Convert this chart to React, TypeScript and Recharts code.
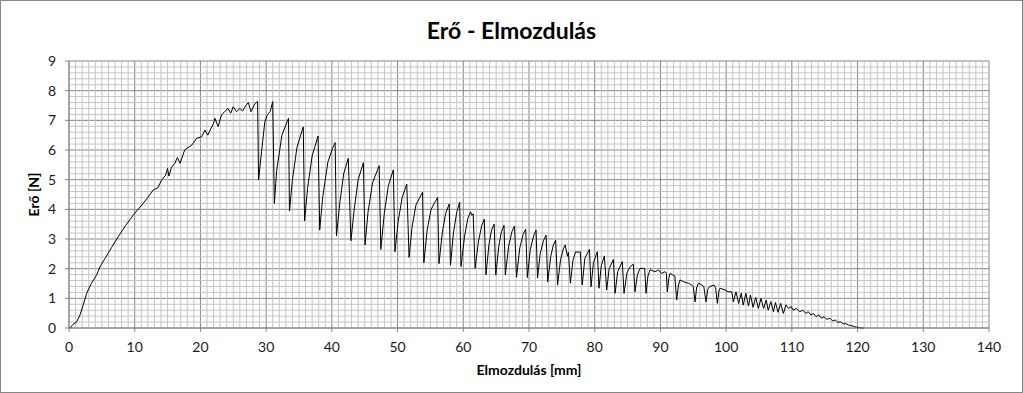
import React from 'react';
import { LineChart, Line, XAxis, YAxis, CartesianGrid, Label, ReferenceLine } from 'recharts';

// [elmozdulás mm, erő N]
const rise: [number, number][] = [
  [0, 0], [0.15, 0], [0.6, 0.12], [1.17, 0.21], [1.67, 0.44], [2.2, 0.8], [2.69, 1.17],
  [3.4, 1.5], [4.2, 1.79], [4.8, 2.1], [5.5, 2.35], [6.5, 2.72], [7.5, 3.08], [8.6, 3.45],
  [9.8, 3.81], [10.5, 4.0], [11.1, 4.15], [12.0, 4.4], [12.8, 4.65], [13.5, 4.72], [14.1, 4.99],
  [14.7, 5.15], [15.0, 5.38], [15.2, 5.12], [15.6, 5.42], [16.1, 5.55], [16.5, 5.75], [16.9, 5.55],
  [17.6, 6.0], [18.7, 6.17], [19.4, 6.39], [20.2, 6.45], [20.7, 6.67], [21.1, 6.5], [22.0, 6.9],
  [22.2, 7.07], [22.7, 6.79], [23.2, 7.18], [23.7, 7.3], [24.2, 7.4], [24.6, 7.24], [25.0, 7.46],
  [25.5, 7.29], [26.0, 7.4], [26.4, 7.31], [26.9, 7.5], [27.3, 7.6], [27.7, 7.29], [28.3, 7.57],
  [28.7, 7.63],
];

const bigTeeth: [number, number][] = [
  [28.85, 4.99], [29.3, 5.94], [29.8, 6.95], [30.2, 7.2], [30.6, 7.29], [31.0, 7.63], [31.25, 4.2],
  [31.6, 5.3], [32.4, 6.5], [33.4, 7.07], [33.55, 3.94],
  [34.0, 5.0], [34.7, 6.1], [35.65, 6.78], [35.85, 3.61],
  [36.3, 4.7], [37.0, 5.8], [37.9, 6.47], [38.15, 3.3],
  [38.6, 4.4], [39.4, 5.6], [40.1, 6.05], [40.5, 6.25], [40.7, 3.1],
  [41.2, 4.2], [41.8, 5.2], [42.5, 5.72], [42.9, 2.94],
  [43.4, 4.0], [44.0, 5.0], [44.8, 5.57], [45.05, 2.8],
  [45.5, 3.9], [46.2, 4.9], [47.2, 5.47], [47.45, 2.65],
  [48.0, 3.9], [48.6, 4.8], [49.35, 5.33], [49.6, 2.57],
];

const midTeeth: [number, number][] = [
  [50.1, 3.6], [50.7, 4.4], [51.2, 4.72], [51.4, 4.85], [51.75, 2.38],
  [52.2, 3.4], [52.8, 4.15], [53.5, 4.45], [53.8, 4.58], [54.0, 2.2],
  [54.5, 3.3], [55.1, 4.0], [55.7, 4.25], [56.1, 4.4], [56.3, 2.17],
  [56.8, 3.2], [57.3, 3.85], [57.85, 4.18], [58.05, 2.12],
  [58.5, 3.2], [59.0, 3.9], [59.45, 4.24], [59.65, 2.07],
  [60.2, 3.1], [60.7, 3.7], [61.1, 3.92], [61.3, 3.8], [61.5, 3.85], [61.8, 2.01],
  [62.3, 2.9], [62.8, 3.45], [63.2, 3.67], [63.45, 1.79],
  [63.9, 2.8], [64.3, 3.3], [64.7, 3.5], [64.95, 1.79],
  [65.4, 2.75], [65.8, 3.25], [66.2, 3.46], [66.4, 1.79],
  [66.9, 2.75], [67.4, 3.25], [67.8, 3.44], [68.1, 1.71],
  [68.6, 2.7], [69.1, 3.15], [69.5, 3.33], [69.75, 1.7],
  [70.2, 2.65], [70.7, 3.1], [71.07, 3.3], [71.3, 1.68],
  [71.7, 2.5], [72.2, 2.95], [72.6, 3.13], [72.85, 1.56],
  [73.3, 2.4], [73.7, 2.8], [74.06, 2.96], [74.35, 1.45],
  [74.8, 2.3], [75.2, 2.65], [75.5, 2.8], [75.85, 2.42], [76.0, 2.55], [76.3, 1.51],
  [76.7, 2.3], [77.1, 2.57], [77.5, 2.55], [77.8, 2.57], [78.1, 1.45],
  [78.5, 2.35], [79.2, 2.65], [79.44, 1.39],
  [79.8, 2.2], [80.4, 2.57], [80.65, 1.34],
  [81.0, 2.1], [81.47, 2.43], [81.82, 1.28],
  [82.2, 2.0], [82.84, 2.31], [83.1, 1.17],
  [83.5, 1.9], [84.2, 2.24], [84.46, 1.17],
  [84.9, 1.85], [85.4, 2.07], [85.88, 2.15], [86.13, 1.22],
];

const tail: [number, number][] = [
  [86.5, 1.8], [86.9, 2.01], [87.4, 2.01], [87.6, 2.0], [87.81, 1.17],
  [88.1, 1.75], [88.42, 1.96], [89.18, 1.9], [89.69, 1.95], [90.19, 1.84], [90.7, 1.9], [90.9, 1.85], [91.05, 1.22],
  [91.3, 1.7], [91.46, 1.84], [91.87, 1.79], [92.2, 1.75], [92.47, 0.94],
  [92.75, 1.45], [92.98, 1.62], [93.49, 1.56], [94.25, 1.51], [94.76, 1.45], [95.0, 1.4], [95.27, 0.88],
  [95.5, 1.35], [95.77, 1.51], [96.28, 1.45], [96.6, 1.4], [96.94, 0.88],
  [97.2, 1.3], [97.45, 1.39], [98.15, 1.45], [98.4, 1.35], [98.66, 0.83],
  [98.9, 1.25], [99.07, 1.34], [99.83, 1.28], [100.3, 1.22], [100.85, 1.22],
  [101.1, 0.88], [101.5, 1.22], [101.9, 0.83], [102.3, 1.17], [102.6, 0.77], [103.0, 1.17],
  [103.4, 0.74], [103.7, 1.11], [104.1, 0.7], [104.5, 1.03], [104.9, 0.66], [105.3, 1.0],
  [105.7, 0.66], [106.1, 0.94], [106.4, 0.6], [106.8, 0.89], [107.2, 0.55], [107.5, 0.86],
  [107.9, 0.53], [108.3, 0.83], [108.7, 0.49], [109.1, 0.78], [109.5, 0.66], [109.9, 0.72],
  [110.2, 0.6], [110.7, 0.66], [111.2, 0.55], [111.7, 0.6], [112.1, 0.49], [112.5, 0.55],
  [112.9, 0.44], [113.3, 0.49], [113.7, 0.38], [114.1, 0.44], [114.5, 0.33], [114.9, 0.38],
  [115.3, 0.29], [115.8, 0.33], [116.2, 0.24], [116.6, 0.27], [117.0, 0.19], [117.4, 0.21],
  [117.8, 0.14], [118.2, 0.15], [118.6, 0.1], [119.1, 0.08], [119.6, 0.04], [120.1, 0.02],
  [120.6, 0], [121.0, 0],
];

const xTicks = [0, 10, 20, 30, 40, 50, 60, 70, 80, 90, 100, 110, 120, 130, 140];
const yTicks = [0, 1, 2, 3, 4, 5, 6, 7, 8, 9];
// minor grid: every 1 mm and every 0.2 N, majors left to CartesianGrid
const xMinor = Array.from({ length: 141 }, (_, i) => i).filter((v) => v % 10 !== 0);
const yMinor = Array.from({ length: 46 }, (_, i) => i).filter((i) => i % 5 !== 0).map((i) => i / 5);

const data = [...rise, ...bigTeeth, ...midTeeth, ...tail].map(([mm, n]) => ({ mm, n }));

const font = 'Lato, "Open Sans", sans-serif';
const tickStyle = { fontSize: 14, fill: '#1a1a1a', fontFamily: font };
const titleStyle = { fontSize: 14, fontWeight: 700, fill: '#000', fontFamily: font };
const minorStroke = '#c4c4c4';

export default function App() {
  return (
    <div
      style={{
        position: 'absolute', left: 0, top: 0, width: 1023, height: 393,
        boxSizing: 'border-box', border: '1px solid #868686', background: '#fff',
      }}
    >
      <div
        style={{
          position: 'absolute', left: 0, width: 1021, top: 15, textAlign: 'center',
          fontFamily: font, fontWeight: 700, fontSize: 23, lineHeight: '28px', color: '#000',
        }}
      >
        Erő - Elmozdulás
      </div>
      <LineChart width={1021} height={391} data={data} margin={{ top: 60, right: 33, bottom: 0, left: 0 }}>
        {xMinor.map((v) => (
          <ReferenceLine key={`x${v}`} x={v} stroke={minorStroke} strokeWidth={1} />
        ))}
        {yMinor.map((v) => (
          <ReferenceLine key={`y${v}`} y={v} stroke={minorStroke} strokeWidth={1} />
        ))}
        <CartesianGrid stroke="#858585" />
        <XAxis
          type="number"
          dataKey="mm"
          domain={[0, 140]}
          ticks={xTicks}
          height={64}
          tickSize={4}
          tickMargin={10}
          tick={tickStyle}
          stroke="#868686"
          interval={0}
        >
          <Label value="Elmozdulás [mm]" position="insideBottom" offset={17} style={titleStyle} />
        </XAxis>
        <YAxis
          type="number"
          domain={[0, 9]}
          ticks={yTicks}
          width={68}
          tickSize={4}
          tickMargin={9}
          tick={tickStyle}
          stroke="#868686"
          interval={0}
        >
          <Label value="Erő [N]" position="center" angle={-90} dx={-1} style={titleStyle} />
        </YAxis>
        <Line
          type="linear"
          dataKey="n"
          stroke="#000"
          strokeWidth={1}
          dot={false}
          isAnimationActive={false}
        />
      </LineChart>
    </div>
  );
}
